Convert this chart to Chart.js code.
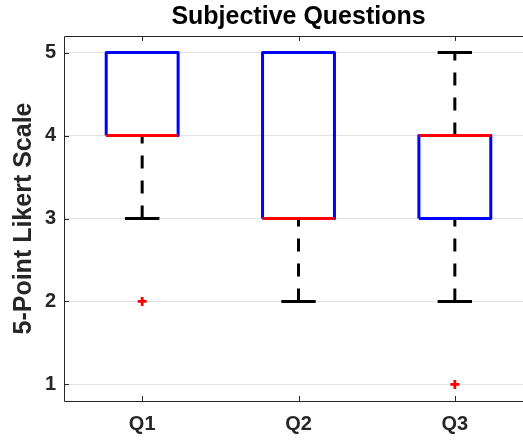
<!DOCTYPE html>
<html>
<head>
<meta charset="utf-8">
<title>Subjective Questions</title>
<script src="https://cdn.jsdelivr.net/npm/chart.js@4.4.1/dist/chart.umd.min.js"></script>
<style>
  html, body { margin: 0; padding: 0; background: #fff; overflow: hidden; }
</style>
</head>
<body>
<canvas id="chart" width="523" height="441"></canvas>
<script>
// box plot summary
const categories = ['Q1', 'Q2', 'Q3'];
const lowerWhisker = [3, 2, 2];
const lowerQuartile = [4, 3, 3];
const medians = [4, 3, 4];
const upperQuartile = [5, 5, 4];
const upperWhisker = [5, 5, 5];
const outliers = [[2], [], [1]];
const yTicks = [1, 2, 3, 4, 5];
const titleText = 'Subjective Questions';
const yTitle = '5-Point Likert Scale';

const BOX_HALF = 0.23;   // half box width, in category units
const CAP_HALF = 0.11;
const X_MAX = 3.436;     // axes run 0.5..3.5 but the picture is cropped on the right
const INK = '#262626';
const FONT = "'Liberation Sans', Arial, Helvetica, sans-serif";

// build line paths from the summary arrays (null breaks the line)
const gap = i => ({ x: i + 1, y: null });
const boxPts = [], medPts = [], whiskPts = [], capPts = [], outPts = [];
categories.forEach((c, i) => {
  const x = i + 1;
  boxPts.push({ x: x - BOX_HALF, y: lowerQuartile[i] }, { x: x - BOX_HALF, y: upperQuartile[i] },
              { x: x + BOX_HALF, y: upperQuartile[i] }, { x: x + BOX_HALF, y: lowerQuartile[i] },
              { x: x - BOX_HALF, y: lowerQuartile[i] }, gap(i));
  medPts.push({ x: x - BOX_HALF, y: medians[i] }, { x: x + BOX_HALF, y: medians[i] }, gap(i));
  // whiskers go from the lower value upward (dash phase like matlab)
  if (lowerWhisker[i] < lowerQuartile[i]) whiskPts.push({ x, y: lowerWhisker[i] }, { x, y: lowerQuartile[i] }, gap(i));
  if (upperWhisker[i] > upperQuartile[i]) whiskPts.push({ x, y: upperQuartile[i] }, { x, y: upperWhisker[i] }, gap(i));
  capPts.push({ x: x - CAP_HALF, y: lowerWhisker[i] }, { x: x + CAP_HALF, y: lowerWhisker[i] }, gap(i),
              { x: x - CAP_HALF, y: upperWhisker[i] }, { x: x + CAP_HALF, y: upperWhisker[i] }, gap(i));
  outliers[i].forEach(v => outPts.push({ x, y: v }));
});

const lineBase = { type: 'line', pointRadius: 0, fill: false, tension: 0, spanGaps: false, borderCapStyle: 'butt' };

// axes frame (no right side, it is cut off), inward ticks, and the title
// centred over the whole 0.5..3.5 axes
const framePlugin = {
  id: 'frame',
  afterDatasetsDraw(chart) {
    const { ctx, chartArea: a, scales } = chart;
    ctx.save();
    ctx.strokeStyle = INK;
    ctx.lineWidth = 1;
    ctx.beginPath();
    yTicks.forEach(v => {
      const py = Math.round(scales.y.getPixelForValue(v)) + 0.5;
      ctx.moveTo(a.left, py); ctx.lineTo(a.left + 5, py);
    });
    categories.forEach((c, i) => {
      const px = Math.round(scales.x.getPixelForValue(i + 1)) + 0.5;
      ctx.moveTo(px, a.bottom); ctx.lineTo(px, a.bottom - 5);
      ctx.moveTo(px, a.top); ctx.lineTo(px, a.top + 5);
    });
    const l = Math.round(a.left) + 0.5, t = Math.round(a.top) + 0.5, b = Math.round(a.bottom) + 0.5;
    ctx.moveTo(chart.width, t); ctx.lineTo(l, t); ctx.lineTo(l, b); ctx.lineTo(chart.width, b);
    ctx.stroke();

    ctx.fillStyle = '#000';
    ctx.font = 'bold 25px ' + FONT;
    ctx.textAlign = 'center';
    ctx.textBaseline = 'middle';
    ctx.fillText(titleText, scales.x.getPixelForValue(2), 17);
    ctx.restore();
  }
};

// stop the scales from reserving room for edge labels
const noEdgePad = s => { s.paddingLeft = 0; s.paddingRight = 0; s.paddingTop = 0; s.paddingBottom = 0; };

new Chart(document.getElementById('chart'), {
  data: {
    datasets: [
      { type: 'scatter', data: outPts, order: -1, pointStyle: 'cross', pointRadius: 4.5, hoverRadius: 4.5,
        borderColor: '#ff0000', backgroundColor: '#ff0000', borderWidth: 2.8 },
      Object.assign({}, lineBase, { data: medPts, order: 0, borderColor: '#ff0000', borderWidth: 3 }),
      Object.assign({}, lineBase, { data: boxPts, order: 1, borderColor: '#0000ff', borderWidth: 3, borderJoinStyle: 'round' }),
      Object.assign({}, lineBase, { data: capPts, order: 2, borderColor: '#000000', borderWidth: 3 }),
      Object.assign({}, lineBase, { data: whiskPts, order: 3, borderColor: '#000000', borderWidth: 3, borderDash: [13, 12] }),
    ],
  },
  options: {
    responsive: false,
    animation: false,
    events: [],
    layout: { autoPadding: false, padding: { left: 0, right: 0, top: 36, bottom: 0 } },
    plugins: {
      legend: { display: false },
      tooltip: { enabled: false },
      title: { display: false },
    },
    scales: {
      x: {
        type: 'linear', min: 0.5, max: X_MAX,
        afterBuildTicks: s => { s.ticks = categories.map((c, i) => ({ value: i + 1 })); },
        afterFit: s => { s.height = 40; noEdgePad(s); },
        grid: { display: false, drawTicks: false },
        border: { display: false },
        ticks: { color: INK, padding: 11, maxRotation: 0, autoSkip: false,
                 font: { family: FONT, size: 20, weight: 'bold' },
                 callback: v => categories[v - 1] },
      },
      y: {
        type: 'linear', min: 0.8, max: 5.2,
        afterBuildTicks: s => { s.ticks = yTicks.map(v => ({ value: v })); },
        afterFit: s => { s.width = 64; noEdgePad(s); },
        grid: { color: '#e2e2e2', lineWidth: 1, drawTicks: false },
        border: { display: false },
        ticks: { color: INK, padding: 8, font: { family: FONT, size: 20, weight: 'bold' } },
        title: {
          display: true, text: yTitle, color: INK,
          font: { family: FONT, size: 25, weight: 'bold', lineHeight: 1.2 },
          padding: { top: 9, bottom: 0 },
        },
      },
    },
  },
  plugins: [framePlugin],
});
</script>
</body>
</html>
